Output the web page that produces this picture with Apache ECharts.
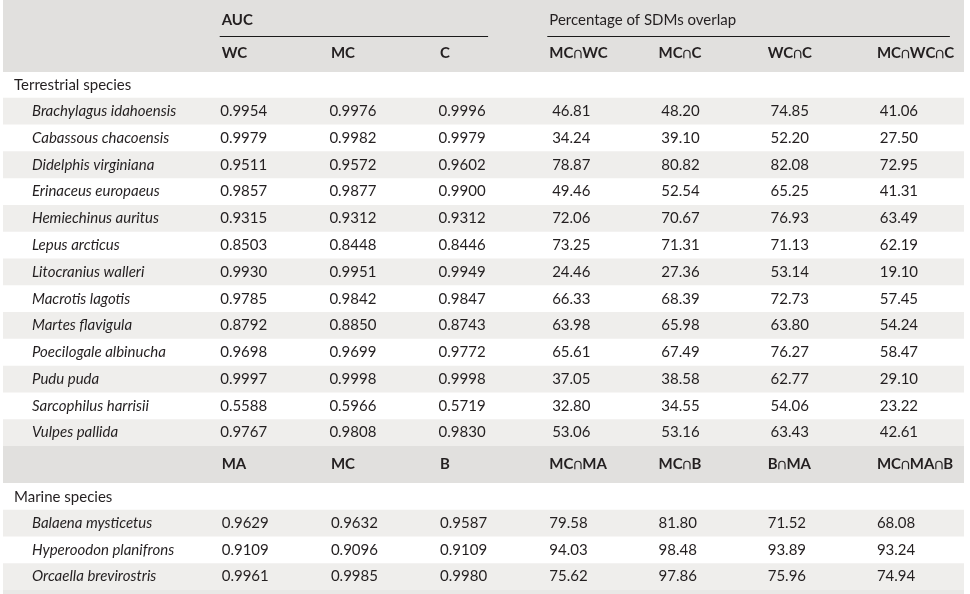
<!DOCTYPE html>
<html>
<head>
<meta charset="utf-8">
<script src="https://cdn.jsdelivr.net/npm/echarts@6/dist/echarts.min.js"></script>
<style>
html,body{margin:0;padding:0;background:#fff;}
#main{width:970px;height:594px;}
</style>
</head>
<body>
<div id="main"></div>
<script>
// ---------------- DATA ----------------
const groupHeaders = ['AUC', 'Percentage of SDMs overlap'];
const groupSpans = [[0, 2], [3, 6]];
const terrestrialCols = ['WC', 'MC', 'C', 'MC∩WC', 'MC∩C', 'WC∩C', 'MC∩WC∩C'];
const marineCols = ['MA', 'MC', 'B', 'MC∩MA', 'MC∩B', 'B∩MA', 'MC∩MA∩B'];
const terrestrialLabel = 'Terrestrial species';
const marineLabel = 'Marine species';

const terrestrialSpecies = ['Brachylagus idahoensis', 'Cabassous chacoensis', 'Didelphis virginiana',
  'Erinaceus europaeus', 'Hemiechinus auritus', 'Lepus arcticus', 'Litocranius walleri',
  'Macrotis lagotis', 'Martes flavigula', 'Poecilogale albinucha', 'Pudu puda',
  'Sarcophilus harrisii', 'Vulpes pallida'];
const aucWC = [0.9954, 0.9979, 0.9511, 0.9857, 0.9315, 0.8503, 0.9930, 0.9785, 0.8792, 0.9698, 0.9997, 0.5588, 0.9767];
const aucMC = [0.9976, 0.9982, 0.9572, 0.9877, 0.9312, 0.8448, 0.9951, 0.9842, 0.8850, 0.9699, 0.9998, 0.5966, 0.9808];
const aucC  = [0.9996, 0.9979, 0.9602, 0.9900, 0.9312, 0.8446, 0.9949, 0.9847, 0.8743, 0.9772, 0.9998, 0.5719, 0.9830];
const ovMCWC   = [46.81, 34.24, 78.87, 49.46, 72.06, 73.25, 24.46, 66.33, 63.98, 65.61, 37.05, 32.80, 53.06];
const ovMCC    = [48.20, 39.10, 80.82, 52.54, 70.67, 71.31, 27.36, 68.39, 65.98, 67.49, 38.58, 34.55, 53.16];
const ovWCC    = [74.85, 52.20, 82.08, 65.25, 76.93, 71.13, 53.14, 72.73, 63.80, 76.27, 62.77, 54.06, 63.43];
const ovMCWCC  = [41.06, 27.50, 72.95, 41.31, 63.49, 62.19, 19.10, 57.45, 54.24, 58.47, 29.10, 23.22, 42.61];

const marineSpecies = ['Balaena mysticetus', 'Hyperoodon planifrons', 'Orcaella brevirostris'];
const aucMA  = [0.9629, 0.9109, 0.9961];
const aucMCm = [0.9632, 0.9096, 0.9985];
const aucB   = [0.9587, 0.9109, 0.9980];
const ovMCMA   = [79.58, 94.03, 75.62];
const ovMCB    = [81.80, 98.48, 97.86];
const ovBMA    = [71.52, 93.89, 75.96];
const ovMCMAB  = [68.08, 93.24, 74.94];

// ---------------- STYLE ----------------
const FONT = 'Lato, "Open Sans", sans-serif';
const FS = 15;
const TXT = '#231f20';
const HEAD_BG = '#e1e0de';
const STRIPE = '#efeeec';
const TABLE_L = 3, TABLE_R = 6;
const NAME_X = 32, SECTION_X = 14;
const TERR_CENTER_SHIFT = 22;   // terrestrial values are centred
const groupLineExtra = [48, 73];
const gridX = { left: 221.7, right: 93.1 };

// ---------------- BUILD ----------------
const terrAuc = [aucWC, aucMC, aucC];
const terrOv = [ovMCWC, ovMCC, ovWCC, ovMCWCC];
const marAuc = [aucMA, aucMCm, aucB];
const marOv = [ovMCMA, ovMCB, ovBMA, ovMCMAB];

function rowValues(aucArr, ovArr, i) {
  return aucArr.map(a => a[i].toFixed(4)).concat(ovArr.map(o => o[i].toFixed(2)));
}

function txt(x, y, s, opt) {
  opt = opt || {};
  return {
    type: 'text',
    style: {
      x: x, y: y, text: s, fill: TXT,
      fontFamily: FONT, fontSize: FS,
      fontWeight: opt.bold ? 'bold' : 'normal',
      fontStyle: opt.italic ? 'italic' : 'normal',
      align: opt.align || 'left', verticalAlign: 'middle'
    }
  };
}

function bandRect(api, yTop, h, color) {
  return { type: 'rect', shape: { x: TABLE_L, y: yTop, width: api.getWidth() - TABLE_L - TABLE_R, height: h }, style: { fill: color } };
}

const cols = [0, 1, 2, 3, 4, 5, 6];

function renderHeader(params, api) {
  const row = api.value(1);
  const c = api.coord([0, row]);
  const h = api.size([0, 1])[1];
  const children = [bandRect(api, c[1] - h / 2, h, HEAD_BG)];
  if (row === 0) {
    groupHeaders.forEach((g, k) => {
      const s = api.coord([groupSpans[k][0], row]);
      children.push(txt(s[0], s[1] + 2, g, { bold: k === 0 }));
    });
  } else {
    const ly = Math.round(c[1] - h / 2) + 0.5;
    groupHeaders.forEach((g, k) => {
      const s = api.coord([groupSpans[k][0], row]);
      const e = api.coord([groupSpans[k][1], row]);
      children.push({ type: 'line', shape: { x1: s[0] - 2, y1: ly, x2: e[0] + groupLineExtra[k], y2: ly },
        style: { stroke: '#1a1a1a', lineWidth: 1 } });
    });
    cols.forEach(ci => {
      const p = api.coord([ci, row]);
      children.push(txt(p[0], p[1] - 1, terrestrialCols[ci], { bold: true }));
    });
  }
  return { type: 'group', children: children };
}

function renderSub(params, api) {
  const c = api.coord([0, 0]);
  const h = api.size([0, 1])[1];
  const children = [bandRect(api, c[1] - h / 2, h, HEAD_BG)];
  cols.forEach(ci => {
    const p = api.coord([ci, 0]);
    children.push(txt(p[0], p[1], marineCols[ci], { bold: true }));
  });
  return { type: 'group', children: children };
}

function makeBodyRenderer(label, species, aucArr, ovArr, centred) {
  return function (params, api) {
    const row = api.value(1);
    const c = api.coord([0, row]);
    const h = api.size([0, 1])[1];
    const children = [];
    if (row === 0) {
      children.push(txt(SECTION_X, c[1] + 1, label));
    } else {
      const i = row - 1;
      if (i % 2 === 0) children.push(bandRect(api, c[1] - h / 2, h, STRIPE));
      children.push(txt(NAME_X, c[1], species[i], { italic: true }));
      const vals = rowValues(aucArr, ovArr, i);
      cols.forEach(ci => {
        const p = api.coord([ci, row]);
        if (centred) children.push(txt(p[0] + TERR_CENTER_SHIFT, p[1], vals[ci], { align: 'center' }));
        else children.push(txt(p[0], p[1], vals[ci]));
      });
    }
    return { type: 'group', children: children };
  };
}

const terrRows = [terrestrialLabel].concat(terrestrialSpecies);
const marRows = [marineLabel].concat(marineSpecies);

function xAx(gi, names) {
  return { gridIndex: gi, type: 'category', boundaryGap: false, data: names, show: false };
}
function yAx(gi, names) {
  return { gridIndex: gi, type: 'category', inverse: true, data: names, show: false };
}

const option = {
  animation: false,
  backgroundColor: '#ffffff',
  grid: [
    Object.assign({ top: 0, height: 72 }, gridX),
    Object.assign({ top: 71, height: 375 }, gridX),
    Object.assign({ top: 446, height: 37 }, gridX),
    Object.assign({ top: 483, height: 107 }, gridX)
  ],
  xAxis: [xAx(0, terrestrialCols), xAx(1, terrestrialCols), xAx(2, marineCols), xAx(3, marineCols)],
  yAxis: [yAx(0, ['groups', 'columns']), yAx(1, terrRows), yAx(2, ['marineColumns']), yAx(3, marRows)],
  graphic: [{ type: 'rect', left: TABLE_L, bottom: 0, shape: { width: 970 - TABLE_L - TABLE_R, height: 4 }, style: { fill: '#e9e8e6' }, silent: true }],
  series: [
    { type: 'custom', xAxisIndex: 0, yAxisIndex: 0, silent: true, renderItem: renderHeader, data: [[0, 0], [0, 1]] },
    { type: 'custom', xAxisIndex: 1, yAxisIndex: 1, silent: true,
      renderItem: makeBodyRenderer(terrestrialLabel, terrestrialSpecies, terrAuc, terrOv, true),
      data: terrRows.map((_, i) => [0, i]) },
    { type: 'custom', xAxisIndex: 2, yAxisIndex: 2, silent: true, renderItem: renderSub, data: [[0, 0]] },
    { type: 'custom', xAxisIndex: 3, yAxisIndex: 3, silent: true,
      renderItem: makeBodyRenderer(marineLabel, marineSpecies, marAuc, marOv, false),
      data: marRows.map((_, i) => [0, i]) }
  ]
};

const chart = echarts.init(document.getElementById('main'));
chart.setOption(option);
</script>
</body>
</html>
